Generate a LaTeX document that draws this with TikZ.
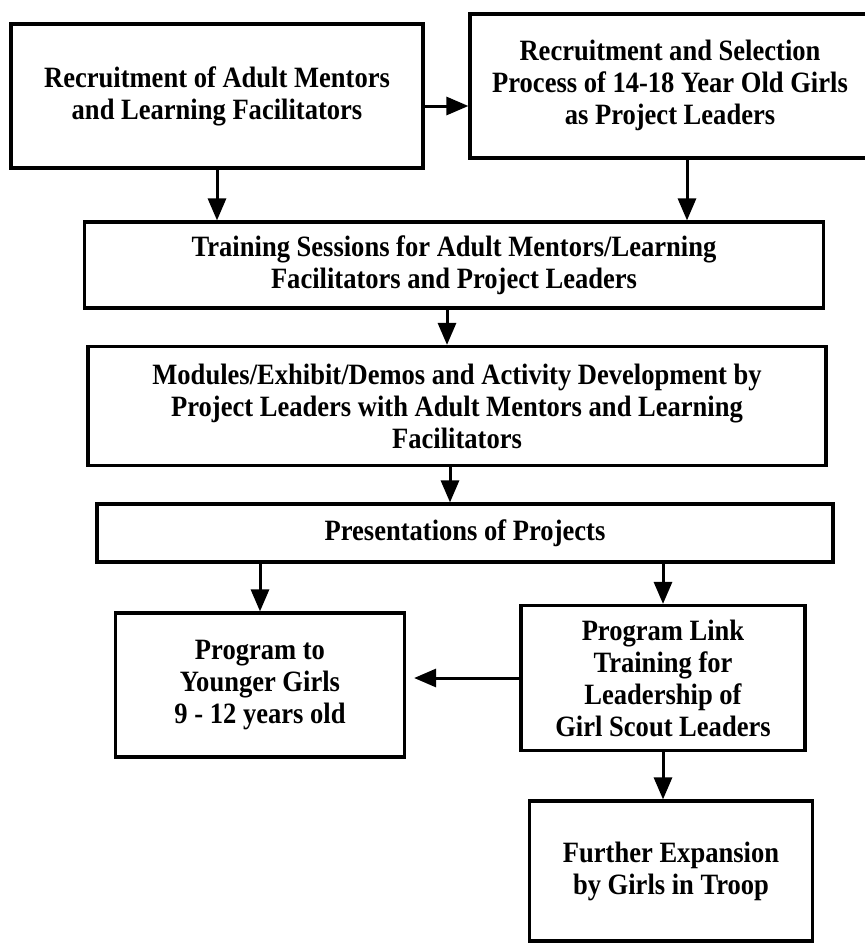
\documentclass[tikz,border=0pt]{standalone}
\usepackage{fontspec}
\setmainfont{Liberation Serif}[FakeStretch=0.9]
\usetikzlibrary{arrows.meta}
\tikzset{
  box/.style={draw, line width=3.2pt, inner sep=0pt, align=center,
    font=\fontsize{29.5}{32}\selectfont\bfseries},
  arr/.style={line width=3pt, -{Triangle[length=22pt,width=18pt]}}
}
\begin{document}
\begin{tikzpicture}[x=1pt,y=-1pt]
\useasboundingbox (0,0) rectangle (865,943);
\fill[white] (0,0) rectangle (865,943);
% boxes
\node[box, minimum width=412pt, minimum height=144pt] (A) at (217,96)
  {Recruitment of Adult Mentors\\and Learning Facilitators};
\node[box, minimum width=420pt, minimum height=144pt] (B) at (680,86)
  {\begin{tabular}{@{}c@{}}Recruitment and Selection\\Process of 14-18 Year Old Girls\\as Project Leaders\end{tabular}\kern20pt\mbox{}};
\node[box, minimum width=739pt, minimum height=86pt] (C) at (454,265)
  {Training Sessions for Adult Mentors/Learning\\Facilitators and Project Leaders};
\node[box, minimum width=738pt, minimum height=119pt] (D) at (457,406)
  {Modules/Exhibit/Demos and Activity Development by\\Project Leaders with Adult Mentors and Learning\\Facilitators};
\node[box, minimum width=736pt, minimum height=58pt] (E) at (465,533)
  {Presentations of Projects};
\node[box, minimum width=289pt, minimum height=144pt] (F) at (260,685)
  {Program to\\Younger Girls\\9 - 12 years old};
\node[box, minimum width=284pt, minimum height=145pt] (G) at (663,678)
  {Program Link\\Training for\\Leadership of\\Girl Scout Leaders};
\node[box, minimum width=283pt, minimum height=140pt] (H) at (671,871)
  {Further Expansion\\by Girls in Troop};
% connectors
\draw[arr] ([yshift=-10pt]A.east) -- ([yshift=-10pt]A.east -| B.west);
\draw[arr] (A.south) -- (A.south |- C.north);
\draw[arr] ([xshift=7pt]B.south) -- ([xshift=7pt]B.south |- C.north);
\draw[arr] ([xshift=-7pt]C.south) -- ([xshift=-7pt]C.south |- D.north);
\draw[arr] ([xshift=-7pt]D.south) -- ([xshift=-7pt]D.south |- E.north);
\draw[arr] (F.north |- E.south) -- (F.north);
\draw[arr] (G.north |- E.south) -- (G.north);
\draw[arr, shorten >=8pt] (G.west) -- (G.west -| F.east);
\draw[arr] (G.south) -- (G.south |- H.north);
\end{tikzpicture}
\end{document}
